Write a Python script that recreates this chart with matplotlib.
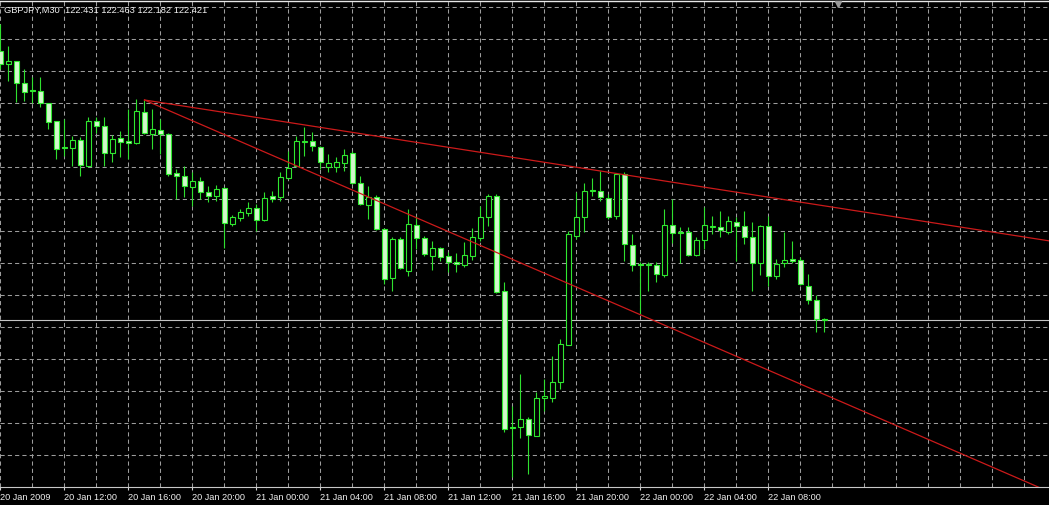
import numpy as np
import matplotlib
matplotlib.use('Agg')
import matplotlib.pyplot as plt

# GBPJPY M30, 20 Jan 2009 08:00 onwards, one bar every 30 min
opens  = [127.80, 127.54, 127.60, 127.16, 127.02, 127.00, 126.76, 126.40, 125.88, 125.86,
          126.02, 125.50, 126.40, 126.30, 125.76, 126.06, 126.00, 125.96, 126.58, 126.14,
          126.22, 126.14, 125.36, 125.30, 125.08, 125.20, 124.98, 124.90, 125.06, 124.34,
          124.46, 124.56, 124.66, 124.42, 124.90, 124.88, 125.26, 125.50, 125.98, 126.00,
          125.88, 125.48, 125.48, 125.56, 125.76, 125.16, 124.72, 124.88, 124.24, 123.26,
          124.04, 123.40, 124.32, 124.06, 123.70, 123.86, 123.70, 123.58, 123.52, 123.70,
          124.06, 124.48, 124.90, 123.00, 120.28, 120.28, 120.44, 120.10, 120.86, 120.86,
          121.18, 121.92, 124.10, 124.48, 125.00, 125.00, 124.86, 124.50, 125.34, 123.92,
          123.54, 123.52, 123.52, 123.32, 124.32, 124.18, 124.18, 123.72, 124.02, 124.28,
          124.28, 124.18, 124.38, 124.30, 124.08, 123.56, 124.30, 123.30, 123.56, 123.64,
          123.62, 123.10, 122.82, 122.431]
highs  = [128.34, 127.90, 127.60, 127.44, 127.28, 127.28, 126.76, 126.40, 126.44, 126.10,
          126.08, 126.48, 126.48, 126.48, 126.12, 126.20, 126.64, 126.84, 126.82, 126.64,
          126.44, 126.16, 125.44, 125.50, 125.38, 125.28, 125.10, 125.12, 125.08, 124.52,
          124.64, 124.78, 124.74, 124.98, 125.00, 125.38, 125.80, 126.10, 126.28, 126.18,
          125.90, 125.74, 125.68, 125.84, 125.80, 125.30, 125.10, 124.92, 124.26, 124.08,
          124.08, 124.64, 124.50, 124.10, 124.00, 123.88, 123.78, 123.76, 123.98, 124.26,
          124.70, 124.94, 124.94, 123.18, 120.70, 121.34, 120.48, 120.98, 121.24, 121.70,
          122.04, 124.20, 124.98, 125.16, 125.26, 125.40, 124.94, 125.36, 125.38, 124.14,
          123.58, 123.58, 123.58, 124.64, 124.84, 124.28, 124.28, 124.08, 124.68, 124.50,
          124.60, 124.50, 124.48, 124.60, 124.38, 124.32, 124.50, 123.64, 124.18, 124.00,
          123.68, 123.34, 122.92, 122.463]
lows   = [127.44, 127.20, 126.78, 126.80, 126.76, 126.68, 126.24, 125.64, 125.70, 125.50,
          125.30, 125.48, 126.16, 125.50, 125.58, 125.68, 125.64, 125.94, 126.14, 125.84,
          125.74, 125.30, 124.84, 124.88, 124.70, 124.84, 124.78, 124.80, 123.86, 124.30,
          124.40, 124.50, 124.20, 124.40, 124.78, 124.80, 125.24, 125.48, 125.70, 125.80,
          125.44, 125.38, 125.38, 125.40, 125.14, 124.72, 124.44, 124.22, 123.14, 123.00,
          123.44, 123.30, 123.84, 123.70, 123.42, 123.60, 123.38, 123.38, 123.48, 123.62,
          124.00, 124.30, 122.96, 120.18, 119.28, 120.06, 119.34, 120.10, 120.60, 120.78,
          121.04, 121.92, 124.04, 124.18, 124.90, 124.80, 124.44, 124.44, 123.60, 123.40,
          122.54, 123.00, 123.18, 123.28, 123.96, 123.56, 123.70, 123.70, 123.84, 124.14,
          124.08, 124.14, 123.60, 123.94, 123.00, 123.32, 123.10, 123.24, 123.48, 123.56,
          123.12, 122.74, 122.18, 122.182]
closes = [127.54, 127.60, 127.16, 126.98, 127.00, 126.76, 126.38, 125.84, 125.86, 126.02,
          125.52, 126.40, 126.30, 125.76, 126.04, 125.98, 125.96, 126.60, 126.16, 126.24,
          126.14, 125.34, 125.30, 125.10, 125.20, 124.98, 124.90, 125.04, 124.36, 124.48,
          124.58, 124.66, 124.42, 124.86, 124.84, 125.28, 125.46, 126.00, 126.00, 125.90,
          125.58, 125.56, 125.58, 125.72, 125.16, 124.74, 124.88, 124.24, 123.24, 124.04,
          123.46, 124.34, 124.06, 123.74, 123.86, 123.68, 123.58, 123.54, 123.72, 124.08,
          124.48, 124.90, 122.98, 120.24, 120.26, 120.44, 120.12, 120.86, 120.90, 121.18,
          121.94, 124.14, 124.48, 125.00, 125.02, 124.88, 124.48, 125.34, 123.94, 123.52,
          123.52, 123.54, 123.34, 124.32, 124.16, 124.16, 123.72, 124.02, 124.32, 124.30,
          124.22, 124.40, 124.30, 124.08, 123.56, 124.30, 123.30, 123.54, 123.62, 123.60,
          123.14, 122.82, 122.44, 122.421]

time_labels = ['20 Jan 2009', '20 Jan 12:00', '20 Jan 16:00', '20 Jan 20:00',
               '21 Jan 00:00', '21 Jan 04:00', '21 Jan 08:00', '21 Jan 12:00',
               '21 Jan 16:00', '21 Jan 20:00', '22 Jan 00:00', '22 Jan 04:00',
               '22 Jan 08:00']

# trend lines: common start point (bar, price) and a second point on each ray
tl_start = (18, 126.82)
tl_upper = (75, 125.40)
tl_lower = (60, 123.91)

o = np.array(opens)
h = np.array(highs)
l = np.array(lows)
c = np.array(closes)
x = np.arange(len(o))

fig = plt.figure(figsize=(10.49, 5.06), dpi=100, facecolor='black')
ax = fig.add_axes([0, 18 / 506, 1, 486 / 506])
ax.set_facecolor('black')
ax.set_xlim(-0.06, 1049 / 8 - 0.06)
ax.set_ylim(119.08, 128.80)

# grid
ax.set_yticks(np.round(128.68 - 0.64 * np.arange(15), 2))
ax.set_xticks(np.arange(len(time_labels)) * 8)
ax.set_xticks(np.arange(0, 132, 4), minor=True)
ax.set_xticklabels(time_labels)
for lbl in ax.get_xticklabels():
    lbl.set_ha('left')
grid_kw = dict(color='#9c9c9c', linestyle=(0, (4, 3)), linewidth=0.75)
ax.grid(True, which='major', axis='y', **grid_kw)
ax.grid(True, which='both', axis='x', **grid_kw)
ax.set_axisbelow(True)
ax.tick_params(axis='y', length=0, labelleft=False)
ax.tick_params(axis='x', which='minor', length=0)
ax.tick_params(axis='x', which='major', direction='out', length=2.5, width=0.8,
               color='#d0d0d0', pad=1.2, labelsize=6.6, labelcolor='#f0f0f0')
for lbl in ax.get_xticklabels():
    lbl.set_family('Liberation Sans')

for s in ['left', 'right']:
    ax.spines[s].set_visible(False)
ax.spines['top'].set_color('#e8e8e8')
ax.spines['top'].set_linewidth(1)
ax.spines['bottom'].set_color('#c8c8c8')
ax.spines['bottom'].set_linewidth(0.8)

# candles
up = c >= o
ax.vlines(x, l, h, color='#2fe02f', linewidth=0.8, zorder=2)
ax.bar(x, np.maximum(np.abs(c - o), 0.008), width=0.62, bottom=np.minimum(o, c),
       color=np.where(up, 'black', '#d2f7cc'), edgecolor='#2fe82f',
       linewidth=0.8, zorder=3)

# bid line
ax.axhline(c[-1], color='#c4c4c4', linewidth=0.8, zorder=1.5)

# trend lines as rays to the right edge
x_end = ax.get_xlim()[1]
for pt in [tl_upper, tl_lower]:
    slope = (pt[1] - tl_start[1]) / (pt[0] - tl_start[0])
    ax.plot([tl_start[0], x_end], [tl_start[1], tl_start[1] + slope * (x_end - tl_start[0])],
            color='#cc1a1a', linewidth=0.9, zorder=4)

# chart shift marker
ax.plot([838 / 1049], [1 - 3 / 486], marker='v', ms=4, color='#9a9a9a',
        transform=ax.transAxes, clip_on=False, zorder=6)

header = 'GBPJPY,M30  %.3f %.3f %.3f %.3f' % (o[-1], h[-1], l[-1], c[-1])
fig.text(4 / 1049, 1 - 10 / 506, header, color='#f0f0f0', fontsize=6.7,
         family='Liberation Sans', va='center', ha='left')

fig.savefig('out.png', dpi=100, facecolor='black')
